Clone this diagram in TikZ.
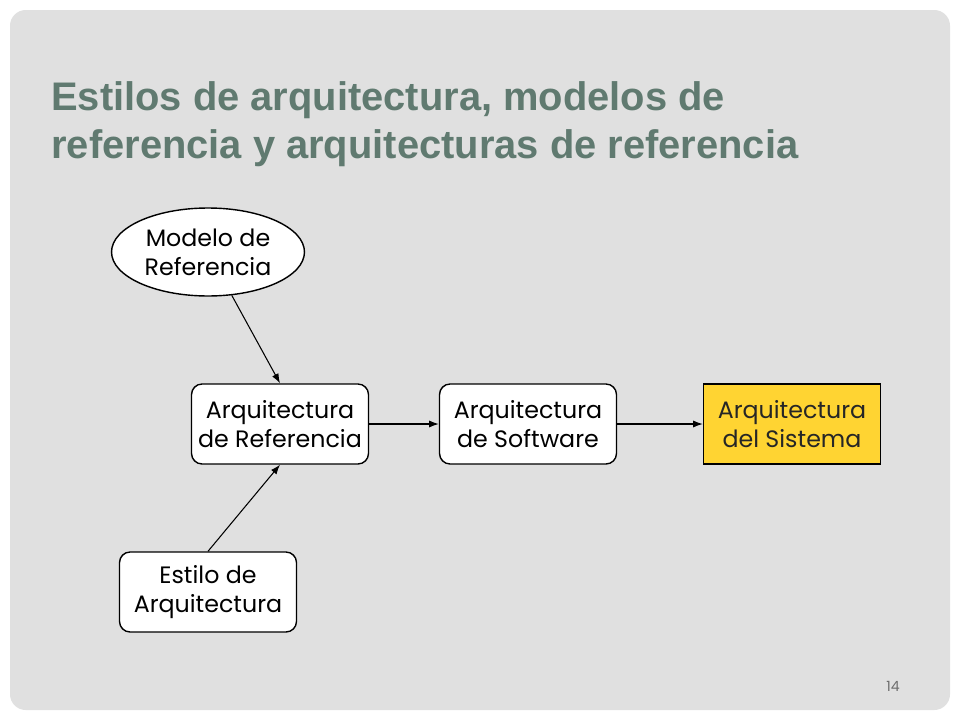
\documentclass[tikz,border=0pt]{standalone}
\usepackage{fontspec}
\setmainfont{Poppins}
\newfontfamily\titlefont{Liberation Sans}
\usetikzlibrary{shapes.geometric,arrows.meta}
\definecolor{panelgray}{RGB}{224,224,224}
\definecolor{titlegreen}{RGB}{96,122,112}
\definecolor{sysyellow}{RGB}{255,212,50}
\definecolor{numgray}{RGB}{110,110,110}

\begin{document}
\begin{tikzpicture}[x=0.02cm, y=-0.02cm,
        box/.style={draw, thick, fill=white, rounded corners=6pt, align=center,
            minimum width=3.54cm, minimum height=1.6cm, inner sep=0pt,
            font=\fontsize{13.5}{16.4}\selectfont},
        elli/.style={box, ellipse, minimum width=3.86cm, minimum height=1.76cm},
        sysbox/.style={box, rounded corners=0pt, fill=sysyellow, text=black!85},
        arr/.style={-{Latex[length=5.5pt,width=4pt]}, semithick}]
        \useasboundingbox (0,0) rectangle (960,720);
        % panel
        \fill[white] (0,0) rectangle (960,720);
        \fill[panelgray, rounded corners=9pt] (10,10) rectangle (950,710);

        \node[anchor=north west, inner sep=0pt, align=left, text=titlegreen,
            font=\titlefont\bfseries\fontsize{22.7}{27.2}\selectfont] (title) at (51,81)
            {Estilos de arquitectura, modelos de\\referencia y arquitecturas de referencia};

        \node[elli] (modref) at (208,252) {Modelo de\\Referencia};
        \node[box] (arqref) at (280,424) {Arquitectura\\de Referencia};
        \node[box] (arqsoft) at (528,424) {Arquitectura\\de Software};
        \node[sysbox] (arqsis) at (792,424) {Arquitectura\\del Sistema};
        \node[box] (estilo) at (208,592) {Estilo de\\Arquitectura};

        \draw[arr] (modref) -- (arqref.north);
        \draw[arr] (estilo.north) -- (arqref.south);
        \draw[arr] (arqref) -- (arqsoft);
        \draw[arr] (arqsoft) -- (arqsis);

        \node[text=numgray, font=\fontsize{8}{10}\selectfont] (pagenum) at (893,686) {14};
    \end{tikzpicture}
\end{document}
